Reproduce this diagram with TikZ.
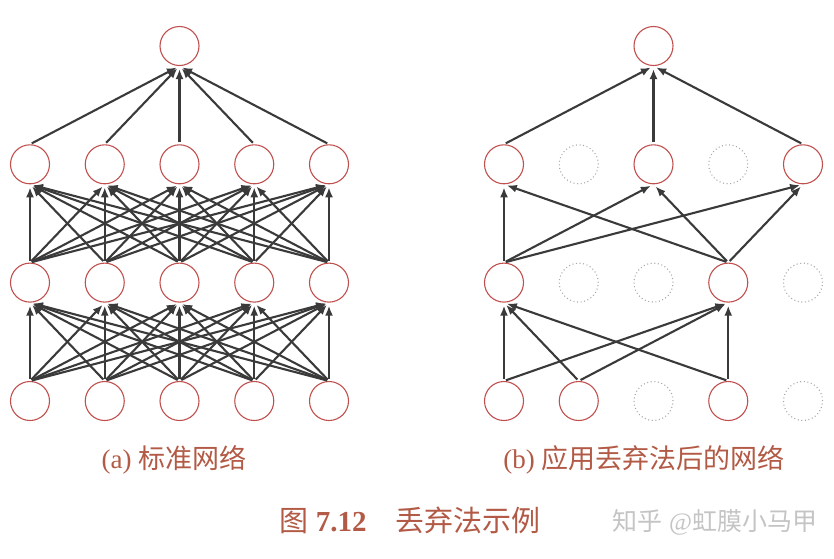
\documentclass[tikz,border=0pt]{standalone}
\usepackage{fontspec}
\usepackage{xcolor}
\usepackage{tikz}
\usetikzlibrary{arrows.meta}
\setmainfont{Liberation Serif}
\newfontfamily\cjk{Noto Sans CJK SC}
\definecolor{neuronred}{HTML}{C0504D}
\definecolor{capred}{HTML}{B25A45}
\definecolor{edgegray}{HTML}{3A3A3A}
\definecolor{dropgray}{HTML}{A8A8A8}
\definecolor{markgray}{HTML}{C4C4C4}

\begin{document}
\begin{tikzpicture}[
  x=1pt,y=-1pt,
  unit/.style={circle,draw=neuronred,line width=1.1pt,minimum size=39pt,inner sep=0pt},
  dropped/.style={unit,draw=dropgray,dash pattern=on 1pt off 2.6pt},
  arrow/.style={-{Latex[length=10pt,width=8pt]},line width=2.1pt,draw=edgegray,shorten <=2pt,shorten >=3pt},
  captext/.style={text=capred,font=\fontsize{27}{32}\selectfont},
  figtext/.style={text=capred,font=\fontsize{29}{34}\selectfont},
  wmarktext/.style={text=markgray,font=\fontsize{25}{30}\selectfont}
]
\useasboundingbox (0,0) rectangle (834,558);

% (a) full network
\foreach \i/\x in {1/30,2/104.75,3/179.5,4/254.25,5/329} {
  \node[unit] (Lin\i) at (\x,401) {};
  \node[unit] (Lhb\i) at (\x,282.6) {};
  \node[unit] (Lha\i) at (\x,164.3) {};
}
\node[unit] (Lout) at (179.5,46) {};
\foreach \i in {1,...,5} {
  \draw[arrow] (Lha\i.north) -- (Lout.south);
  \foreach \j in {1,...,5} {
    \draw[arrow] (Lin\i.north) -- (Lhb\j.south);
    \draw[arrow] (Lhb\i.north) -- (Lha\j.south);
  }
}

% (b) after dropout
\node[unit] (Rin1) at (504,401) {};
\node[unit] (Rin2) at (578.75,401) {};
\node[dropped] (Rin3) at (653.5,401) {};
\node[unit] (Rin4) at (728.25,401) {};
\node[dropped] (Rin5) at (803,401) {};
\node[unit] (Rhb1) at (504,282.6) {};
\node[dropped] (Rhb2) at (578.75,282.6) {};
\node[dropped] (Rhb3) at (653.5,282.6) {};
\node[unit] (Rhb4) at (728.25,282.6) {};
\node[dropped] (Rhb5) at (803,282.6) {};
\node[unit] (Rha1) at (504,164.3) {};
\node[dropped] (Rha2) at (578.75,164.3) {};
\node[unit] (Rha3) at (653.5,164.3) {};
\node[dropped] (Rha4) at (728.25,164.3) {};
\node[unit] (Rha5) at (803,164.3) {};
\node[unit] (Rout) at (653.5,46) {};
\draw[arrow] (Rin1.north) -- (Rhb1.south);
\draw[arrow] (Rin1.north) -- (Rhb4.south);
\draw[arrow] (Rin2.north) -- (Rhb1.south);
\draw[arrow] (Rin2.north) -- (Rhb4.south);
\draw[arrow] (Rin4.north) -- (Rhb1.south);
\draw[arrow] (Rin4.north) -- (Rhb4.south);
\draw[arrow] (Rhb1.north) -- (Rha1.south);
\draw[arrow] (Rhb1.north) -- (Rha3.south);
\draw[arrow] (Rhb1.north) -- (Rha5.south);
\draw[arrow] (Rhb4.north) -- (Rha1.south);
\draw[arrow] (Rhb4.north) -- (Rha3.south);
\draw[arrow] (Rhb4.north) -- (Rha5.south);
\draw[arrow] (Rha1.north) -- (Rout.south);
\draw[arrow] (Rha3.north) -- (Rout.south);
\draw[arrow] (Rha5.north) -- (Rout.south);

% captions
\node[captext] (capa) at (174,460) {(a) {\cjk 标准网络}};
\node[captext] (capb) at (644,460) {(b) {\cjk 应用丢弃法后的网络}};
\node[figtext] (figcap) at (410,520) {{\cjk 图} \textbf{7.12}\quad{\cjk 丢弃法示例}};
\node[wmarktext] (wmark) at (715,522) {{\cjk 知乎} @{\cjk 虹膜小马甲}};
\end{tikzpicture}
\end{document}
